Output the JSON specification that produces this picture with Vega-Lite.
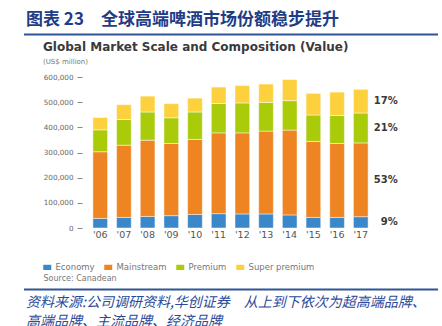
{
  "$schema": "https://vega.github.io/schema/vega-lite/v6.json",
  "background": "white",
  "padding": {"left": 23, "top": 10, "right": 5, "bottom": 0},
  "spacing": 5,
  "config": {"view": {"stroke": null}, "font": "DejaVu Sans"},
  "datasets": {
    "market": [
      {"year": "'06", "segment": "Economy", "value": 38000},
      {"year": "'06", "segment": "Mainstream", "value": 265000},
      {"year": "'06", "segment": "Premium", "value": 87000},
      {"year": "'06", "segment": "Super premium", "value": 49000},
      {"year": "'07", "segment": "Economy", "value": 42000},
      {"year": "'07", "segment": "Mainstream", "value": 287000},
      {"year": "'07", "segment": "Premium", "value": 102000},
      {"year": "'07", "segment": "Super premium", "value": 59000},
      {"year": "'08", "segment": "Economy", "value": 46000},
      {"year": "'08", "segment": "Mainstream", "value": 303000},
      {"year": "'08", "segment": "Premium", "value": 112000},
      {"year": "'08", "segment": "Super premium", "value": 63000},
      {"year": "'09", "segment": "Economy", "value": 49000},
      {"year": "'09", "segment": "Mainstream", "value": 287000},
      {"year": "'09", "segment": "Premium", "value": 102000},
      {"year": "'09", "segment": "Super premium", "value": 56000},
      {"year": "'10", "segment": "Economy", "value": 54000},
      {"year": "'10", "segment": "Mainstream", "value": 298000},
      {"year": "'10", "segment": "Premium", "value": 109000},
      {"year": "'10", "segment": "Super premium", "value": 55000},
      {"year": "'11", "segment": "Economy", "value": 57000},
      {"year": "'11", "segment": "Mainstream", "value": 321000},
      {"year": "'11", "segment": "Premium", "value": 117000},
      {"year": "'11", "segment": "Super premium", "value": 65000},
      {"year": "'12", "segment": "Economy", "value": 56000},
      {"year": "'12", "segment": "Mainstream", "value": 322000},
      {"year": "'12", "segment": "Premium", "value": 119000},
      {"year": "'12", "segment": "Super premium", "value": 69000},
      {"year": "'13", "segment": "Economy", "value": 56000},
      {"year": "'13", "segment": "Mainstream", "value": 329000},
      {"year": "'13", "segment": "Premium", "value": 114000},
      {"year": "'13", "segment": "Super premium", "value": 73000},
      {"year": "'14", "segment": "Economy", "value": 52000},
      {"year": "'14", "segment": "Mainstream", "value": 337000},
      {"year": "'14", "segment": "Premium", "value": 117000},
      {"year": "'14", "segment": "Super premium", "value": 84000},
      {"year": "'15", "segment": "Economy", "value": 42000},
      {"year": "'15", "segment": "Mainstream", "value": 302000},
      {"year": "'15", "segment": "Premium", "value": 105000},
      {"year": "'15", "segment": "Super premium", "value": 86000},
      {"year": "'16", "segment": "Economy", "value": 42000},
      {"year": "'16", "segment": "Mainstream", "value": 294000},
      {"year": "'16", "segment": "Premium", "value": 111000},
      {"year": "'16", "segment": "Super premium", "value": 93000},
      {"year": "'17", "segment": "Economy", "value": 45000},
      {"year": "'17", "segment": "Mainstream", "value": 293000},
      {"year": "'17", "segment": "Premium", "value": 119000},
      {"year": "'17", "segment": "Super premium", "value": 94000}
    ],
    "shares": [
      {"year": "'17", "segment": "Economy", "value": 45000, "label": "9%"},
      {"year": "'17", "segment": "Mainstream", "value": 293000, "label": "53%"},
      {"year": "'17", "segment": "Premium", "value": 119000, "label": "21%"},
      {"year": "'17", "segment": "Super premium", "value": 94000, "label": "17%"}
    ],
    "order": [
      {"segment": "Economy", "order": 1},
      {"segment": "Mainstream", "order": 2},
      {"segment": "Premium", "order": 3},
      {"segment": "Super premium", "order": 4}
    ],
    "line": [{"a": 0, "b": 1}]
  },
  "vconcat": [
    {
      "title": {
        "text": "图表 23　全球高端啤酒市场份额稳步提升",
        "anchor": "start",
        "frame": "group",
        "font": "Noto Sans CJK SC",
        "fontSize": 17,
        "fontWeight": "bold",
        "color": "#1F3C86",
        "offset": 5,
        "dx": 2
      },
      "width": 414,
      "height": 1,
      "data": {"name": "line"},
      "mark": {"type": "rule", "color": "#2F5597", "strokeWidth": 2},
      "encoding": {
        "x": {"field": "a", "type": "quantitative", "scale": {"domain": [0, 1]}, "axis": null},
        "x2": {"field": "b"}
      }
    },
    {
      "title": {
        "text": "Global Market Scale and Composition (Value)",
        "subtitle": "(US$ million)",
        "anchor": "start",
        "frame": "group",
        "font": "DejaVu Sans",
        "fontSize": 12,
        "fontWeight": "bold",
        "color": "#3A3A3A",
        "subtitleFont": "DejaVu Sans",
        "subtitleFontSize": 7,
        "subtitleColor": "#777777",
        "subtitlePadding": 4,
        "offset": 7,
        "dx": 19
      },
      "width": 414,
      "height": 151,
      "data": {"name": "market"},
      "transform": [
        {"lookup": "segment", "from": {"data": {"name": "order"}, "key": "segment", "fields": ["order"]}}
      ],
      "layer": [
        {
          "mark": {"type": "bar", "stroke": "#FFFFFF", "strokeWidth": 0.6, "strokeOpacity": 0.8},
          "encoding": {
            "x": {
              "field": "year", "type": "nominal", "sort": null,
              "scale": {"paddingInner": 0.38, "paddingOuter": 0.46, "range": [58, 355]},
              "axis": {"title": "Source: Canadean", "titleAnchor": "start", "titleAlign": "left", "titleX": 19, "titlePadding": 36, "titleFontSize": 8, "titleFontWeight": "normal", "titleColor": "#777777", "domain": false, "ticks": false, "labelAngle": 0, "labelFontSize": 9.5, "labelColor": "#555555", "labelPadding": 1}
            },
            "y": {
              "field": "value", "type": "quantitative", "aggregate": "sum", "stack": "zero",
              "scale": {"domain": [0, 600000], "nice": false},
              "axis": {"title": null, "offset": -58, "domain": false, "grid": false, "values": [0, 100000, 200000, 300000, 400000, 500000, 600000], "labelOverlap": false, "format": ",d", "tickSize": 5, "tickColor": "#888888", "labelFontSize": 7.2, "labelColor": "#666666", "labelPadding": 4}
            },
            "color": {
              "field": "segment", "type": "nominal",
              "scale": {"domain": ["Economy", "Mainstream", "Premium", "Super premium"], "range": ["#3A88C9", "#EE8422", "#A9CB0A", "#FDD03E"]},
              "legend": {
                "title": null,
                "orient": "none",
                "legendX": 19,
                "legendY": 229,
                "direction": "horizontal",
                "symbolType": "M-1,-0.65H1V0.65H-1Z",
                "symbolSize": 64,
                "symbolStrokeWidth": 0,
                "symbolOpacity": 1,
                "labelFontSize": 8.5,
                "labelColor": "#777777",
                "labelOffset": 4,
                "columnPadding": 9
              }
            },
            "order": {"field": "order", "type": "quantitative"}
          }
        },
        {
          "data": {"name": "shares"},
          "transform": [
            {"lookup": "segment", "from": {"data": {"name": "order"}, "key": "segment", "fields": ["order"]}},
            {"stack": "value", "groupby": ["year"], "sort": [{"field": "order"}], "as": ["s0", "s1"]},
            {"calculate": "(datum.s0 + datum.s1) / 2", "as": "mid"}
          ],
          "mark": {"type": "text", "align": "right", "baseline": "middle", "dx": 37, "fontSize": 10, "fontWeight": "bold", "color": "#3A3A3A"},
          "encoding": {
            "x": {
              "field": "year", "type": "nominal", "sort": null,
              "axis": {"title": "Source: Canadean", "titleAnchor": "start", "titleAlign": "left", "titleX": 19, "titlePadding": 36, "titleFontSize": 8, "titleFontWeight": "normal", "titleColor": "#777777", "domain": false, "ticks": false, "labelAngle": 0, "labelFontSize": 9.5, "labelColor": "#555555", "labelPadding": 1}
            },
            "y": {
              "field": "mid", "type": "quantitative",
              "axis": {"title": null, "offset": -58, "domain": false, "grid": false, "values": [0, 100000, 200000, 300000, 400000, 500000, 600000], "labelOverlap": false, "format": ",d", "tickSize": 5, "tickColor": "#888888", "labelFontSize": 7.2, "labelColor": "#666666", "labelPadding": 4}
            },
            "text": {"field": "label"}
          }
        }
      ]
    },
    {
      "title": {
        "text": ["资料来源:公司调研资料,华创证券　从上到下依次为超高端品牌、", "高端品牌、主流品牌、经济品牌"],
        "orient": "bottom",
        "anchor": "start",
        "frame": "group",
        "font": "Noto Sans CJK SC",
        "fontSize": 14,
        "fontStyle": "italic",
        "fontWeight": "normal",
        "color": "#2A4A9A",
        "lineHeight": 19,
        "offset": 5,
        "dx": 2
      },
      "width": 414,
      "height": 1,
      "data": {"name": "line"},
      "mark": {"type": "rule", "color": "#2F5597", "strokeWidth": 2},
      "encoding": {
        "x": {"field": "a", "type": "quantitative", "scale": {"domain": [0, 1]}, "axis": null},
        "x2": {"field": "b"}
      }
    }
  ]
}
